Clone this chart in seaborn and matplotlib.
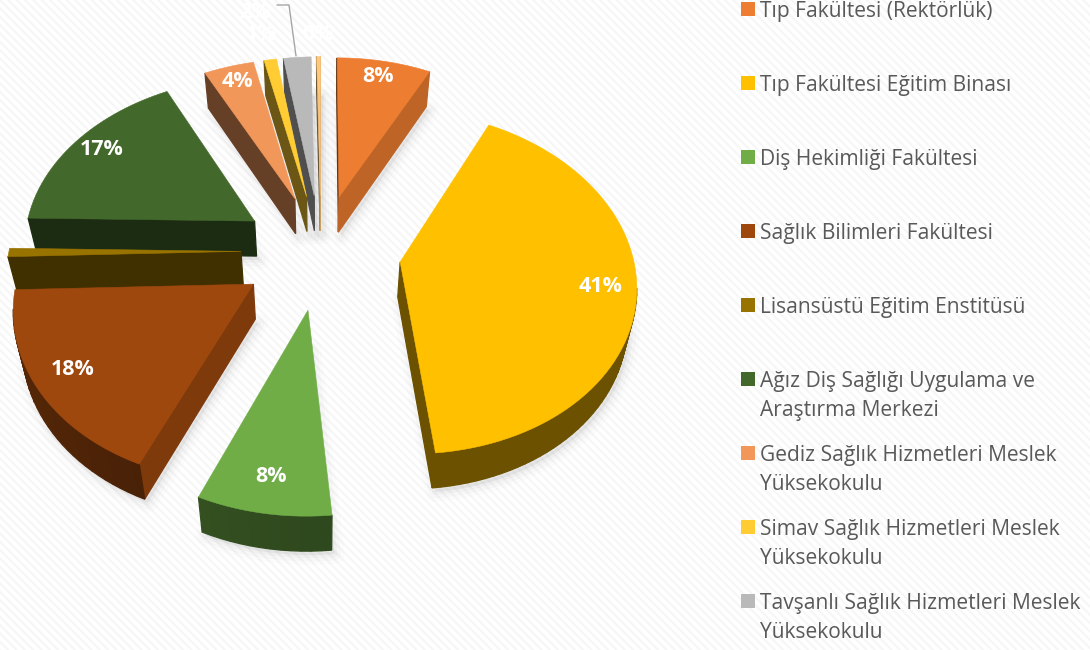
import numpy as np
import matplotlib
matplotlib.use("Agg")
import matplotlib.pyplot as plt
import seaborn as sns
from matplotlib.patches import Polygon, Rectangle

CATEGORIES = [
    "Tıp Fakültesi (Rektörlük)",
    "Tıp Fakültesi Eğitim Binası",
    "Diş Hekimliği Fakültesi",
    "Sağlık Bilimleri Fakültesi",
    "Lisansüstü Eğitim Enstitüsü",
    "Ağız Diş Sağlığı Uygulama ve\nAraştırma Merkezi",
    "Gediz Sağlık Hizmetleri Meslek\nYüksekokulu",
    "Simav Sağlık Hizmetleri Meslek\nYüksekokulu",
    "Tavşanlı Sağlık Hizmetleri Meslek\nYüksekokulu",
    "",
]
VALUES = [7.5, 41.0, 8.0, 18.0, 0.8, 17.2, 4.0, 1.0, 2.2, 0.3]
LABELS = ["8%", "41%", "8%", "18%", "", "17%", "4%", "1%", "2%", "0%"]
COLORS = ["#ed7d31", "#ffc000", "#70ad47", "#9e480e", "#997300",
          "#43682b", "#f1975a", "#ffcd33", "#b9b9b9", "#ffc97d"]

# projection of the tilted pie, all in image pixels
CX, CY = 321, 251
RADIUS, EXPLODE = 232, 80
TILT, PERSP = 0.72, 0.0005
DEPTH, VX, SQUEEZE = 35, 320, 0.03

sns.set_theme(style="white")
plt.rcParams["font.family"] = ["Open Sans", "DejaVu Sans"]
plt.rcParams["hatch.linewidth"] = 1.5
plt.rcParams["hatch.color"] = "#f6f6f6"
palette = sns.color_palette(COLORS)


def project(x, y):
    s = 1 / (1 + PERSP * y)
    return CX + x * s, CY - y * TILT * s


def to_bottom(p):
    return np.column_stack([p[:, 0] + (VX - p[:, 0]) * SQUEEZE, p[:, 1] + DEPTH])


fig = plt.figure(figsize=(10.9, 6.5), dpi=100)
ax = fig.add_axes([0, 0, 1, 1])
ax.set_xlim(0, 1090)
ax.set_ylim(650, 0)
ax.axis("off")
ax.add_patch(Rectangle((0, 0), 1090, 650, facecolor="white", edgecolor="#f6f6f6",
                       hatch="\\\\\\\\", lw=0, zorder=0))

edges = np.cumsum([0] + VALUES) / sum(VALUES) * 2 * np.pi
mids = (edges[:-1] + edges[1:]) / 2
order = np.argsort(-np.cos(mids))

z = 2
for i in order:
    th = np.linspace(edges[i], edges[i + 1], max(int(np.degrees(edges[i + 1] - edges[i]) / 2), 2))
    ex, ey = EXPLODE * np.sin(mids[i]), EXPLODE * np.cos(mids[i])
    xs = np.r_[ex, ex + RADIUS * np.sin(th)]
    ys = np.r_[ey, ey + RADIUS * np.cos(th)]
    top = np.column_stack(project(xs, ys))
    bottom = to_bottom(top)

    # soft shadow under the slice
    for lw, a in [(14, 0.025), (9, 0.035), (4, 0.05)]:
        ax.add_patch(Polygon(bottom + [3, 4], closed=True, facecolor="#808080", edgecolor="#808080",
                             lw=lw, alpha=a, joinstyle="round", zorder=z))
    z += 1

    n = len(top)
    for k in range(n):
        a, b = top[k], top[(k + 1) % n]
        dx, dy = b - a
        # clockwise outline on screen, only edges that face the viewer
        if dx >= 0:
            continue
        nx = dy / np.hypot(dx, dy)
        if k == 0 or k == n - 1:
            shade = 0.8 if nx > 0.2 else 0.42
        else:
            shade = 0.42 + 0.12 * max(-nx, 0)
        quad = np.vstack([a, b, to_bottom(np.array([b]))[0], to_bottom(np.array([a]))[0]])
        col = tuple(c * shade for c in palette[i])
        ax.add_patch(Polygon(quad, closed=True, facecolor=col, edgecolor=col, lw=0.9, zorder=z))
    z += 1
    ax.add_patch(Polygon(top, closed=True, facecolor=palette[i], edgecolor=palette[i], lw=0.4, zorder=z))
    z += 1

    if LABELS[i] and i < 7:
        lx, ly = project(ex + 0.85 * RADIUS * np.sin(mids[i]), ey + 0.85 * RADIUS * np.cos(mids[i]))
        ax.text(lx, ly - 3, LABELS[i], color="white", fontsize=15.5, fontweight="bold",
                ha="center", va="center", zorder=100)

# pale labels of the narrow slices, white on the white ground
ax.text(262, 35, LABELS[7], color="white", fontsize=15.5, fontweight="bold", ha="center", va="center", zorder=100)
ax.text(318, 35, LABELS[9], color="white", fontsize=15.5, fontweight="bold", ha="center", va="center", zorder=100)
ax.text(255, 12, LABELS[8], color="white", fontsize=15.5, fontweight="bold", ha="center", va="center", zorder=100)
ax.plot([277, 289, 296], [5, 5, 56], color="#a6a6a6", lw=1, zorder=1)

# legend, cut off by the bottom of the picture
for i, name in enumerate(CATEGORIES[:9]):
    y = 9 + 74 * i
    ax.add_patch(Rectangle((741, y - 7), 14, 14, facecolor=palette[i], edgecolor="none", zorder=5))
    ax.text(760, y - 7.5, name, color="#595959", fontsize=15.15, ha="left", va="top",
            linespacing=1.48, zorder=5)

fig.savefig("out.png", dpi=100)
